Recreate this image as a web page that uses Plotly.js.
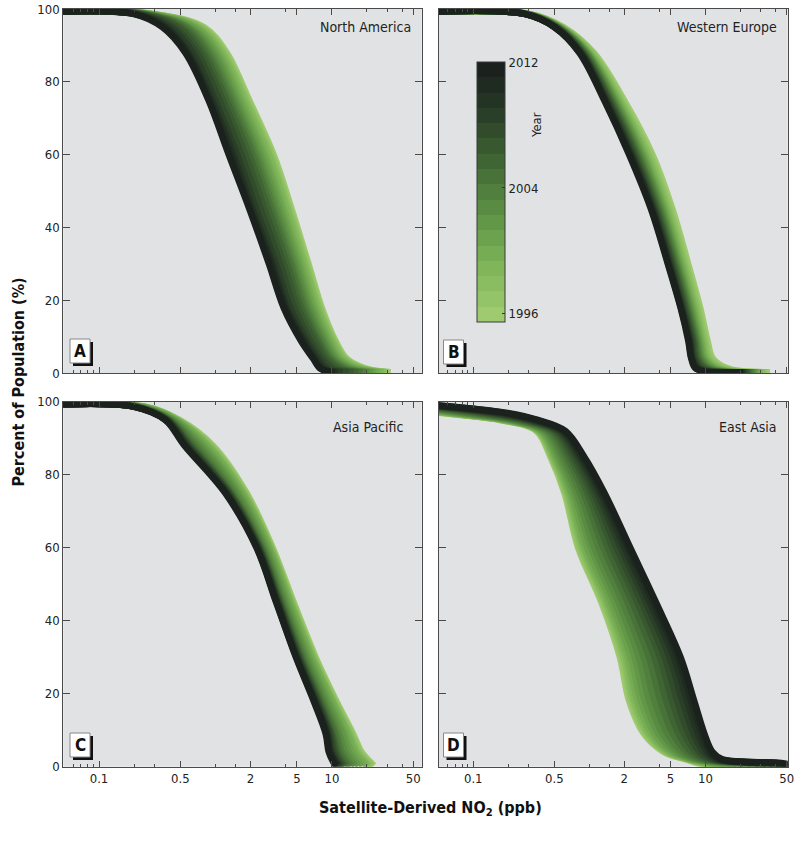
<!DOCTYPE html>
<html>
<head>
<meta charset="utf-8">
<script src="https://cdn.plot.ly/plotly-3.0.1.min.js"></script>
<style>
  html, body { margin: 0; padding: 0; background: #ffffff; }
  #chart { width: 800px; height: 843px; }
</style>
</head>
<body>
<div id="chart"></div>
<script>
// ---------------- DATA ----------------
const years = [1996,1997,1998,1999,2000,2001,2002,2003,2004,2005,2006,2007,2008,2009,2010,2011,2012];
const yearColors = ['#9fca70','#94c468','#8abd61','#80b55a','#76ac53','#6ca24d','#639748','#5a8b43',
                    '#517f3e','#497239','#406534','#38582f','#314b2b','#2a3f27','#243424','#1f2a21','#1b211d'];

const regionNames = ['North America', 'Western Europe', 'Asia Pacific', 'East Asia'];
const panelLetters = ['A', 'B', 'C', 'D'];

const xTickVals = [0.1, 0.5, 2, 5, 10, 50];
const xTickText = ['0.1', '0.5', '2', '5', '10', '50'];
const xMinorVals = [0.06, 0.07, 0.08, 0.09, 0.2, 0.3, 1, 1.5, 4, 20, 30, 40];
const yTickVals = [0, 20, 40, 60, 80, 100];
const cbarTickVals = [1996, 2004, 2012];

// Percent of population (rows) -> NO2 value for each year (columns 1996..2012)
const naPct = [99.2, 98.6, 95, 88, 75, 60, 45, 30, 18, 9, 4, 1.2, 0.3];
const naX = [
  [0.04,0.04,0.04,0.04,0.04,0.04,0.04,0.04,0.04,0.04,0.04,0.04,0.04,0.04,0.04,0.04,0.04],
  [0.3,0.295,0.29,0.286,0.279,0.272,0.265,0.26,0.253,0.247,0.24,0.232,0.224,0.215,0.209,0.204,0.2],
  [0.8,0.77,0.75,0.72,0.69,0.66,0.62,0.59,0.57,0.54,0.51,0.48,0.44,0.41,0.38,0.365,0.35],
  [1.25,1.21,1.17,1.13,1.08,1.03,0.98,0.93,0.88,0.84,0.79,0.74,0.69,0.64,0.59,0.57,0.55],
  [1.95,1.89,1.83,1.77,1.68,1.6,1.52,1.45,1.38,1.31,1.24,1.16,1.08,0.99,0.93,0.89,0.87],
  [3.16,3.06,2.95,2.86,2.7,2.57,2.43,2.3,2.19,2.08,1.95,1.81,1.67,1.53,1.43,1.36,1.3],
  [4.52,4.37,4.24,4.1,3.89,3.71,3.53,3.35,3.18,3.02,2.85,2.65,2.45,2.24,2.09,2.0,1.96],
  [6.3,6.12,5.94,5.77,5.51,5.26,5.02,4.79,4.57,4.37,4.13,3.87,3.6,3.31,3.11,3.0,2.88],
  [8.19,7.96,7.75,7.53,7.2,6.89,6.58,6.29,6.01,5.74,5.44,5.1,4.75,4.39,4.11,3.97,3.85],
  [10.7,10.45,10.2,9.94,9.57,9.19,8.81,8.42,8.14,7.74,7.46,7.05,6.53,6.11,5.8,5.61,5.4],
  [13.4,13.0,12.7,12.3,11.8,11.3,10.9,10.4,10.0,9.6,9.2,8.7,8.2,7.7,7.3,7.0,6.9],
  [20,19.3,18.5,17.9,16.9,16.0,15.1,14.2,13.5,12.7,11.9,11.0,10.1,9.2,8.6,8.2,8.0],
  [32,30.6,29.2,27.8,26,24.2,22.6,21,19.6,18.3,16.9,15.4,13.9,12.4,11.2,10.6,10]
];

const wePct = [99.2, 98.6, 95, 88, 75, 60, 45, 30, 18, 9, 4, 1.2, 0.3];
const weX = [
  [0.04,0.04,0.04,0.04,0.04,0.04,0.04,0.04,0.04,0.04,0.04,0.04,0.04,0.04,0.04,0.04,0.04],
  [0.31,0.307,0.304,0.302,0.3,0.298,0.296,0.294,0.292,0.29,0.288,0.287,0.285,0.283,0.282,0.281,0.28],
  [0.6,0.59,0.58,0.57,0.565,0.557,0.552,0.546,0.54,0.533,0.528,0.523,0.517,0.511,0.507,0.503,0.5],
  [1.09,1.06,1.04,1.01,0.99,0.97,0.96,0.94,0.93,0.91,0.89,0.88,0.86,0.85,0.84,0.83,0.82],
  [1.99,1.91,1.85,1.8,1.75,1.7,1.66,1.62,1.58,1.54,1.51,1.47,1.44,1.4,1.38,1.36,1.34],
  [3.5,3.34,3.22,3.1,3.0,2.9,2.82,2.75,2.66,2.6,2.53,2.46,2.39,2.33,2.28,2.24,2.2],
  [5.2,4.97,4.8,4.64,4.5,4.37,4.26,4.15,4.05,3.94,3.84,3.75,3.65,3.57,3.5,3.44,3.4],
  [7.1,6.82,6.59,6.37,6.19,6.01,5.86,5.72,5.59,5.46,5.32,5.2,5.08,4.95,4.86,4.8,4.74],
  [9.0,8.65,8.36,8.09,7.86,7.63,7.45,7.27,7.11,6.94,6.78,6.62,6.47,6.31,6.2,6.15,6.1],
  [10.4,10.0,9.7,9.42,9.16,8.92,8.71,8.5,8.33,8.14,7.96,7.78,7.61,7.44,7.29,7.19,7.1],
  [11.6,11.1,10.7,10.3,10.0,9.7,9.45,9.2,8.97,8.73,8.5,8.28,8.06,7.84,7.7,7.6,7.55],
  [16,15,14.2,13.5,12.9,12.3,11.8,11.4,10.9,10.5,10.1,9.7,9.3,9.0,8.7,8.5,8.3],
  [36,34.1,32.7,31.3,30.1,29,28.1,27.2,26.4,25.5,24.7,23.9,23.1,22.4,21.8,21.3,21]
];

const apPct = [99.2, 98.6, 95, 88, 75, 60, 45, 30, 18, 9, 4, 1.2, 0.3];
const apX = [
  [0.04,0.04,0.04,0.04,0.04,0.04,0.04,0.04,0.04,0.04,0.04,0.04,0.04,0.04,0.04,0.04,0.04],
  [0.25,0.247,0.244,0.242,0.239,0.234,0.229,0.224,0.219,0.215,0.211,0.209,0.207,0.205,0.203,0.201,0.2],
  [0.49,0.483,0.477,0.47,0.464,0.45,0.438,0.426,0.414,0.405,0.396,0.391,0.386,0.38,0.376,0.373,0.37],
  [0.95,0.92,0.9,0.87,0.85,0.8,0.76,0.72,0.68,0.65,0.62,0.6,0.59,0.57,0.56,0.55,0.54],
  [1.85,1.81,1.77,1.74,1.7,1.63,1.56,1.5,1.43,1.38,1.34,1.32,1.29,1.26,1.24,1.23,1.21],
  [3.1,3.05,3.0,2.96,2.91,2.82,2.72,2.64,2.55,2.49,2.43,2.39,2.36,2.32,2.29,2.27,2.25],
  [4.7,4.61,4.53,4.45,4.37,4.22,4.07,3.93,3.8,3.7,3.6,3.55,3.49,3.43,3.39,3.35,3.32],
  [7.25,7.11,6.97,6.83,6.7,6.43,6.18,5.94,5.72,5.54,5.38,5.28,5.18,5.08,5.0,4.94,4.9],
  [10.9,10.7,10.4,10.2,10.0,9.55,9.12,8.73,8.35,8.05,7.8,7.62,7.45,7.29,7.16,7.07,6.97],
  [15.2,14.8,14.4,14.0,13.6,12.9,12.3,11.6,11.0,10.6,10.1,9.85,9.6,9.35,9.15,9.0,8.85],
  [18,17.4,16.9,16.3,15.8,14.8,13.9,13.0,12.2,11.6,11.1,10.7,10.4,10.0,9.77,9.59,9.4],
  [21.5,20.7,20.0,19.3,18.6,17.2,16.0,14.9,13.8,13.1,12.4,11.9,11.5,11.1,10.8,10.6,10.3],
  [23,22.1,21.3,20.5,19.7,18.3,17.0,15.8,14.7,13.9,13.1,12.6,12.2,11.7,11.4,11.1,10.8]
];

const eaPct = [99, 97, 95, 92, 85, 75, 60, 45, 30, 18, 9, 4, 2, 1, 0.3];
const eaX = [
  [0.02,0.0206,0.0211,0.0217,0.0225,0.0236,0.0249,0.0266,0.0286,0.031,0.0337,0.0366,0.0394,0.0424,0.0452,0.0478,0.05],
  [0.05,0.052,0.054,0.056,0.059,0.064,0.069,0.076,0.084,0.095,0.107,0.121,0.134,0.15,0.164,0.178,0.19],
  [0.17,0.174,0.178,0.182,0.187,0.195,0.203,0.215,0.228,0.243,0.261,0.279,0.296,0.314,0.332,0.347,0.36],
  [0.35,0.356,0.362,0.368,0.377,0.388,0.402,0.418,0.438,0.46,0.484,0.511,0.535,0.559,0.582,0.603,0.62],
  [0.46,0.47,0.478,0.489,0.502,0.518,0.54,0.566,0.597,0.635,0.674,0.716,0.755,0.798,0.835,0.868,0.9],
  [0.61,0.624,0.64,0.655,0.677,0.703,0.739,0.78,0.833,0.894,0.96,1.03,1.1,1.17,1.24,1.3,1.35],
  [0.8,0.82,0.85,0.88,0.91,0.96,1.03,1.1,1.2,1.32,1.44,1.58,1.72,1.87,2.01,2.14,2.25],
  [1.27,1.31,1.36,1.4,1.46,1.54,1.65,1.78,1.94,2.14,2.35,2.59,2.83,3.08,3.32,3.55,3.75],
  [1.83,1.9,1.97,2.04,2.14,2.27,2.45,2.66,2.93,3.26,3.63,4.05,4.46,4.91,5.34,5.75,6.1],
  [2.2,2.29,2.38,2.47,2.6,2.78,3.0,3.28,3.64,4.09,4.6,5.16,5.72,6.34,6.94,7.51,8.0],
  [2.95,3.06,3.17,3.29,3.45,3.66,3.94,4.28,4.72,5.26,5.86,6.53,7.19,7.92,8.61,9.27,9.8],
  [4.4,4.53,4.66,4.8,4.98,5.23,5.54,5.94,6.4,6.99,7.61,8.31,8.96,9.69,10.4,11.0,11.5],
  [6.8,6.94,7.1,7.26,7.47,7.74,8.09,8.5,9.0,9.61,10.2,11.0,11.6,12.3,12.9,13.5,14],
  [8.5,8.94,9.38,9.87,10.6,11.5,12.7,14.2,16.3,18.9,22.0,25.6,29.2,33.4,37.5,41.4,45],
  [11,11.6,12.2,12.8,13.7,14.9,16.5,18.5,21.2,24.6,28.6,33.3,38.1,43.6,49.0,54.4,60]
];

// ---------------- LAYOUT HELPERS ----------------
const W = 800, H = 843;
const px = v => v / W;
const py = v => 1 - v / H;
const FONT = 'DejaVu Sans Condensed, Liberation Sans, Arial, sans-serif';

const panels = [
  {pct: naPct, xs: naX, xa: 'x',  ya: 'y',  L: 63.3, R: 421.7, T: 9,     B: 373.3, xr: [-1.3066, 1.771], lbl: [412.7, 26.7], box: [70, 339]},
  {pct: wePct, xs: weX, xa: 'x2', ya: 'y2', L: 439,  R: 787.7, T: 9,     B: 373.3, xr: [-1.295, 1.708],  lbl: [779.3, 26.7], box: [443.5, 340]},
  {pct: apPct, xs: apX, xa: 'x3', ya: 'y3', L: 63.3, R: 421.7, T: 401.7, B: 766.7, xr: [-1.3066, 1.771], lbl: [405, 426.7],  box: [70, 733]},
  {pct: eaPct, xs: eaX, xa: 'x4', ya: 'y4', L: 439,  R: 787.7, T: 401.7, B: 766.7, xr: [-1.295, 1.708],  lbl: [779.3, 426.7], box: [443.5, 733]}
];

const traces = [];
panels.forEach((p, i) => {
  years.forEach((yr, j) => {
    traces.push({
      type: 'scatter', mode: 'lines',
      x: p.xs.map(row => row[j]),
      y: p.pct,
      xaxis: p.xa, yaxis: p.ya,
      line: {color: yearColors[j], width: 6.5, shape: 'spline', smoothing: 1},
      name: regionNames[i] + ' ' + yr,
      showlegend: false, hoverinfo: 'skip'
    });
  });
});

// colour bar (in panel B)
const discreteScale = [];
yearColors.forEach((c, k) => {
  discreteScale.push([k / yearColors.length, c]);
  discreteScale.push([(k + 1) / yearColors.length, c]);
});
traces.push({
  type: 'scatter', mode: 'markers', x: [0.001], y: [-50], xaxis: 'x2', yaxis: 'y2',
  showlegend: false, hoverinfo: 'skip',
  marker: {
    size: 1, color: [years[0]], cmin: 1995.46, cmax: 2012.06, colorscale: discreteScale, showscale: true,
    colorbar: {
      x: px(477), xanchor: 'left', y: py(191.7), yanchor: 'middle',
      len: 260, lenmode: 'pixels', thickness: 28, thicknessmode: 'pixels',
      xpad: 0, ypad: 0, borderwidth: 0, outlinewidth: 1, outlinecolor: '#3a3a3a',
      tickmode: 'array', tickvals: cbarTickVals, ticktext: cbarTickVals.map(String),
      ticks: 'inside', ticklen: 3, tickcolor: '#333',
      tickfont: {family: FONT, size: 13, color: '#222'}
    }
  }
});

const layout = {
  width: W, height: H,
  margin: {l: 0, r: 0, t: 0, b: 0},
  paper_bgcolor: '#ffffff',
  plot_bgcolor: '#e1e2e4',
  showlegend: false,
  font: {family: FONT, size: 13, color: '#222'},
  annotations: [],
  shapes: []
};

panels.forEach((p, i) => {
  const n = i === 0 ? '' : String(i + 1);
  const bottomRow = i >= 2, leftCol = (i % 2) === 0;
  layout['xaxis' + n] = {
    type: 'log', domain: [px(p.L), px(p.R)], range: p.xr, anchor: p.ya,
    showline: true, linecolor: '#4a4a4a', linewidth: 1, mirror: 'allticks',
    ticks: 'inside', ticklen: 6, tickcolor: '#4a4a4a',
    tickmode: 'array', tickvals: xTickVals, ticktext: xTickText,
    showticklabels: bottomRow, tickfont: {family: FONT, size: 13, color: '#222'},
    minor: {tickmode: 'array', tickvals: xMinorVals, ticks: 'inside', ticklen: 3, tickcolor: '#4a4a4a', showgrid: false},
    showgrid: false, zeroline: false, fixedrange: true
  };
  layout['yaxis' + n] = {
    domain: [py(p.B), py(p.T)], range: [0, 100], anchor: p.xa,
    showline: true, linecolor: '#4a4a4a', linewidth: 1, mirror: 'allticks',
    ticks: 'inside', ticklen: 7, tickcolor: '#4a4a4a',
    tickmode: 'array', tickvals: yTickVals,
    showticklabels: leftCol, tickfont: {family: FONT, size: 13, color: '#222'},
    showgrid: false, zeroline: false, fixedrange: true
  };
  // region label
  layout.annotations.push({
    xref: 'paper', yref: 'paper', x: px(p.lbl[0]), y: py(p.lbl[1]),
    xanchor: 'right', yanchor: 'middle', showarrow: false,
    text: regionNames[i], font: {family: FONT, size: 14, color: '#222'}
  });
  // panel letter box with shadow
  const bx = p.box[0], by = p.box[1], bw = 20, bh = 24, off = 3;
  layout.shapes.push({type: 'rect', xref: 'paper', yref: 'paper',
    x0: px(bx + off), x1: px(bx + bw + off), y0: py(by + bh + off), y1: py(by + off),
    fillcolor: '#111', line: {width: 0}});
  layout.shapes.push({type: 'rect', xref: 'paper', yref: 'paper',
    x0: px(bx), x1: px(bx + bw), y0: py(by + bh), y1: py(by),
    fillcolor: '#ffffff', line: {color: '#888', width: 1}});
  layout.annotations.push({
    xref: 'paper', yref: 'paper', x: px(bx + bw / 2), y: py(by + bh / 2),
    xanchor: 'center', yanchor: 'middle', showarrow: false,
    text: '<b>' + panelLetters[i] + '</b>', font: {family: FONT, size: 17, color: '#111'}
  });
});

// shared axis titles and colour-bar title
layout.annotations.push({
  xref: 'paper', yref: 'paper', x: px(18), y: py(382.5), xanchor: 'center', yanchor: 'middle',
  showarrow: false, textangle: -90,
  text: '<b>Percent of Population (%)</b>', font: {family: FONT, size: 16, color: '#111'}
});
layout.annotations.push({
  xref: 'paper', yref: 'paper', x: px(431), y: py(808), xanchor: 'center', yanchor: 'middle',
  showarrow: false,
  text: '<b>Satellite-Derived NO<sub>2</sub> (ppb)</b>', font: {family: FONT, size: 16, color: '#111'}
});
layout.annotations.push({
  xref: 'paper', yref: 'paper', x: px(537), y: py(125), xanchor: 'center', yanchor: 'middle',
  showarrow: false, textangle: -90,
  text: 'Year', font: {family: FONT, size: 13, color: '#222'}
});

Plotly.newPlot('chart', traces, layout, {staticPlot: true, displayModeBar: false});
</script>
</body>
</html>
